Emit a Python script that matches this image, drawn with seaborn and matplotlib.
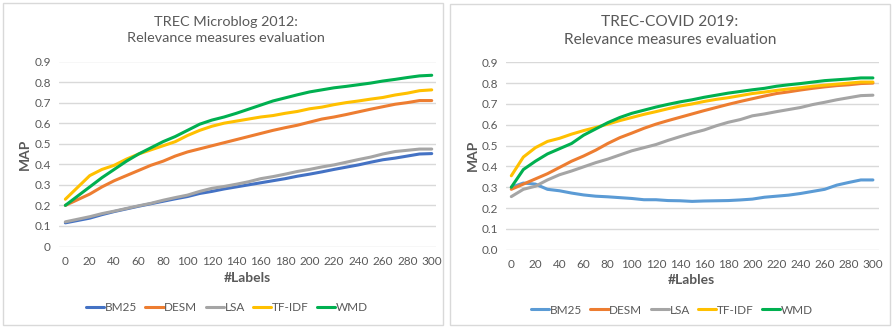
import matplotlib
matplotlib.use("Agg")
import matplotlib.pyplot as plt
import seaborn as sns
import pandas as pd
from matplotlib.patches import Rectangle
from matplotlib.lines import Line2D

# ---------------- data ----------------
methods = ["BM25", "DESM", "LSA", "TF-IDF", "WMD"]

micro_x = [0, 20, 30, 40, 50, 60, 70, 80, 90, 100, 110, 120, 130, 140, 150,
           160, 170, 180, 190, 200, 210, 220, 230, 240, 250, 260, 270, 280, 290, 300]
micro_bm25 = [0.115, 0.138, 0.155, 0.170, 0.183, 0.196, 0.208, 0.220, 0.232, 0.243,
              0.258, 0.268, 0.280, 0.290, 0.300, 0.310, 0.320, 0.330, 0.342, 0.352,
              0.363, 0.375, 0.386, 0.397, 0.410, 0.422, 0.430, 0.440, 0.450, 0.452]
micro_desm = [0.200, 0.255, 0.290, 0.320, 0.345, 0.370, 0.395, 0.415, 0.440, 0.460,
              0.475, 0.490, 0.505, 0.520, 0.535, 0.550, 0.565, 0.578, 0.590, 0.605,
              0.620, 0.630, 0.642, 0.655, 0.668, 0.680, 0.692, 0.700, 0.710, 0.710]
micro_lsa = [0.120, 0.145, 0.160, 0.172, 0.185, 0.198, 0.210, 0.225, 0.238, 0.250,
             0.268, 0.283, 0.292, 0.303, 0.315, 0.330, 0.340, 0.352, 0.365, 0.375,
             0.387, 0.397, 0.410, 0.423, 0.435, 0.450, 0.462, 0.468, 0.474, 0.474]
micro_tfidf = [0.230, 0.345, 0.375, 0.395, 0.425, 0.450, 0.470, 0.490, 0.510, 0.540,
               0.565, 0.585, 0.600, 0.610, 0.620, 0.630, 0.637, 0.648, 0.657, 0.670,
               0.678, 0.690, 0.700, 0.708, 0.717, 0.725, 0.737, 0.746, 0.758, 0.762]
micro_wmd = [0.200, 0.290, 0.335, 0.375, 0.415, 0.450, 0.480, 0.510, 0.535, 0.565,
             0.595, 0.615, 0.630, 0.648, 0.668, 0.688, 0.708, 0.723, 0.738, 0.752,
             0.762, 0.772, 0.779, 0.787, 0.795, 0.805, 0.813, 0.822, 0.830, 0.833]

covid_x = [0, 10, 20, 30, 40, 50, 60, 70, 80, 90, 100, 110, 120, 130, 140, 150,
           160, 170, 180, 190, 200, 210, 220, 230, 240, 250, 260, 270, 280, 290, 300]
covid_bm25 = [0.300, 0.320, 0.315, 0.290, 0.283, 0.272, 0.263, 0.257, 0.254, 0.250,
              0.246, 0.240, 0.240, 0.236, 0.235, 0.232, 0.234, 0.235, 0.236, 0.239,
              0.243, 0.252, 0.257, 0.262, 0.270, 0.280, 0.290, 0.310, 0.323, 0.335, 0.335]
covid_desm = [0.290, 0.315, 0.340, 0.365, 0.395, 0.425, 0.450, 0.478, 0.510, 0.538,
              0.560, 0.583, 0.603, 0.620, 0.636, 0.652, 0.668, 0.683, 0.698, 0.712,
              0.725, 0.738, 0.750, 0.758, 0.767, 0.775, 0.782, 0.788, 0.792, 0.798, 0.800]
covid_lsa = [0.255, 0.290, 0.305, 0.335, 0.360, 0.378, 0.398, 0.418, 0.435, 0.455,
             0.475, 0.490, 0.505, 0.525, 0.543, 0.560, 0.575, 0.595, 0.612, 0.625,
             0.643, 0.652, 0.663, 0.673, 0.683, 0.697, 0.708, 0.720, 0.730, 0.740, 0.742]
covid_tfidf = [0.355, 0.445, 0.490, 0.520, 0.535, 0.555, 0.572, 0.587, 0.603, 0.620,
               0.635, 0.650, 0.663, 0.677, 0.690, 0.700, 0.712, 0.722, 0.730, 0.740,
               0.750, 0.757, 0.765, 0.772, 0.778, 0.785, 0.790, 0.795, 0.800, 0.805, 0.805]
covid_wmd = [0.300, 0.385, 0.425, 0.460, 0.485, 0.510, 0.550, 0.580, 0.610, 0.635,
             0.655, 0.670, 0.685, 0.698, 0.710, 0.720, 0.732, 0.742, 0.752, 0.760,
             0.768, 0.775, 0.785, 0.792, 0.798, 0.805, 0.812, 0.816, 0.820, 0.825, 0.825]

x_ticks = [0, 20, 40, 60, 80, 100, 120, 140, 160, 180, 200, 220, 240, 260, 280, 300]
y_ticks = [0, 0.1, 0.2, 0.3, 0.4, 0.5, 0.6, 0.7, 0.8, 0.9]
micro_ytick_labels = ["0", "0.1", "0.2", "0.3", "0.4", "0.5", "0.6", "0.7", "0.8", "0.9"]
covid_ytick_labels = ["0.0", "0.1", "0.2", "0.3", "0.4", "0.5", "0.6", "0.7", "0.8", "0.9"]

micro_colors = ["#4472C4", "#ED7D31", "#A5A5A5", "#FFC000", "#00B050"]
covid_colors = ["#5B9BD5", "#ED7D31", "#A5A5A5", "#FFC000", "#00B050"]


def long_df(x, series):
    rows = []
    for name, vals in zip(methods, series):
        for xv, yv in zip(x, vals):
            rows.append({"labels": xv, "MAP": yv, "method": name})
    return pd.DataFrame(rows)


df_micro = long_df(micro_x, [micro_bm25, micro_desm, micro_lsa, micro_tfidf, micro_wmd])
df_covid = long_df(covid_x, [covid_bm25, covid_desm, covid_lsa, covid_tfidf, covid_wmd])

# ---------------- figure ----------------
sns.set_style("white")
plt.rcParams["font.family"] = ["Lato", "DejaVu Sans"]

W, H = 894, 328
fig = plt.figure(figsize=(W / 100, H / 100), dpi=100)
TXT = "#595959"


def fx(px):
    return px / W


def fy(py):
    return 1 - py / H


def make_panel(rect, axrect, df, colors, xlim, ytl, title, xlabel, xl_pos, yl_pos,
               title_pos, title_size, leg_pos):
    # panel border
    fig.patches.append(Rectangle((fx(rect[0]), fy(rect[3])), (rect[2] - rect[0]) / W,
                                 (rect[3] - rect[1]) / H, transform=fig.transFigure,
                                 fill=False, ec="#D9D9D9", lw=1.0))
    l, t, r, b = axrect
    ax = fig.add_axes([fx(l), fy(b), (r - l) / W, (b - t) / H])
    sns.lineplot(data=df, x="labels", y="MAP", hue="method", hue_order=methods,
                 palette=colors, linewidth=2.2, legend=False, ax=ax)
    for ln in ax.lines:
        ln.set_clip_on(False)
        ln.set_solid_capstyle("round")
    ax.set_xlim(*xlim)
    ax.set_ylim(0, 0.9)
    ax.set_xticks(x_ticks)
    ax.set_xticklabels([str(v) for v in x_ticks])
    ax.set_yticks(y_ticks)
    ax.set_yticklabels(ytl)
    ax.grid(axis="y", color="#D9D9D9", lw=1.0)
    ax.grid(axis="x", visible=False)
    ax.set_axisbelow(True)
    for s in ax.spines.values():
        s.set_visible(False)
    ax.tick_params(length=0, colors=TXT, labelsize=8.5)
    ax.tick_params(axis="x", pad=7)
    ax.tick_params(axis="y", pad=6)
    ax.set_xlabel("")
    ax.set_ylabel("")
    fig.text(fx(xl_pos[0]), fy(xl_pos[1]), xlabel, ha="center", va="center",
             fontsize=10, fontweight="bold", color=TXT)
    fig.text(fx(yl_pos[0]), fy(yl_pos[1]), "MAP", ha="center", va="center",
             rotation=90, fontsize=10, fontweight="bold", color=TXT)
    fig.text(fx(title_pos[0]), fy(title_pos[1]), title, ha="center", va="center",
             fontsize=title_size, color=TXT, linespacing=1.35)
    handles = [Line2D([0], [0], color=c, lw=2.2) for c in colors]
    leg = fig.legend(handles, methods, loc="center",
                     bbox_to_anchor=(fx(leg_pos[0]), fy(leg_pos[1])), ncol=5,
                     frameon=False, handlelength=1.55, handletextpad=0.05,
                     columnspacing=0.7, fontsize=8.5)
    for tx in leg.get_texts():
        tx.set_color(TXT)
    return ax


make_panel((3, 3, 443, 325), (59, 61.5, 436, 246.5), df_micro, micro_colors,
           (-5.2, 303.5), micro_ytick_labels,
           "TREC Microblog 2012:\nRelevance measures evaluation", "#Labels",
           (247.5, 277.7), (25, 154), (226, 30), 10.4, (227, 307.7))
make_panel((450, 4, 890, 325), (506, 62.3, 878.7, 249.7), df_covid, covid_colors,
           (-4.4, 304.8), covid_ytick_labels,
           "TREC-COVID 2019:\nRelevance measures evaluation", "#Lables",
           (691, 280), (473, 155.7), (670, 31), 11.2, (672, 310))

fig.savefig("out.png", dpi=100)
